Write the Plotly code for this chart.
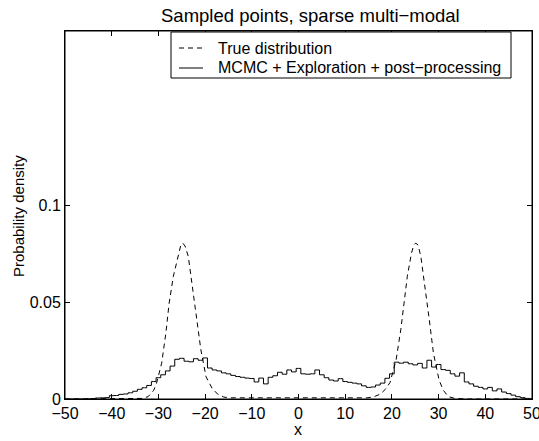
import plotly.graph_objects as go

# ---- data ----
true_x = [-50, -36, -33.5, -32.2, -31.0, -30.4, -29.3, -28.4, -27.7, -26.8, -25.7, -25.2, -24.8,
          -24.3, -23.6, -22.7, -21.7, -20.9, -19.8, -18.5, -17.3, -16.0, -14.7, 0,
          14.7, 16.0, 17.5, 18.6, 19.6, 20.9, 21.9, 22.6, 23.3, 24.2, 24.7, 25.1,
          25.6, 26.2, 27.1, 28.0, 28.9, 30.1, 31.0, 32.1, 33.5, 36, 50]
true_y = [0.0, 0.0, 0.0003, 0.0012, 0.0045, 0.0081, 0.0185, 0.034, 0.0495, 0.0633, 0.0754, 0.0795, 0.0805,
          0.0790, 0.0736, 0.058, 0.041, 0.0253, 0.0115, 0.0055, 0.0025, 0.0010, 0.0006, 0.0005,
          0.0006, 0.0010, 0.0025, 0.0050, 0.0085, 0.0202, 0.0357, 0.0495, 0.0633, 0.0754, 0.0795, 0.0805,
          0.0795, 0.0736, 0.058, 0.041, 0.0236, 0.0098, 0.0045, 0.0012, 0.0003, 0.0, 0.0]

hist_centers = list(range(-50, 51))
hist_values = [
    0.0, 0.0, 0.0, 0.0, 0.0, 0.0001,                                  # -50 .. -45
    0.0002, 0.0005, 0.0006, 0.0007, 0.0017, 0.0018, 0.0024, 0.0026,   # -44 .. -37
    0.0032, 0.0040, 0.0050, 0.0058, 0.0070, 0.0090, 0.0110, 0.0125,   # -36 .. -29
    0.0145, 0.0170, 0.0205, 0.0210, 0.0195, 0.0192, 0.0208, 0.0200,   # -28 .. -21
    0.0212, 0.0160, 0.0150, 0.0145, 0.0135, 0.0130, 0.0122, 0.0116,   # -20 .. -13
    0.0112, 0.0108, 0.0106, 0.0088, 0.0108, 0.0078, 0.0112, 0.0120,   # -12 .. -5
    0.0138, 0.0128, 0.0150, 0.0140, 0.0158, 0.0130, 0.0128, 0.0130,   # -4 .. 3
    0.0150, 0.0125, 0.0110, 0.0098, 0.0093, 0.0105, 0.0090, 0.0086,   # 4 .. 11
    0.0082, 0.0078, 0.0068, 0.0060, 0.0062, 0.0072, 0.0082, 0.0107,   # 12 .. 19
    0.0130, 0.0190, 0.0185, 0.0190, 0.0182, 0.0176, 0.0184, 0.0160,   # 20 .. 27
    0.0200, 0.0165, 0.0178, 0.0152, 0.0148, 0.0130, 0.0118, 0.0135,   # 28 .. 35
    0.0088, 0.0078, 0.0066, 0.0060, 0.0052, 0.0060, 0.0042, 0.0052,   # 36 .. 43
    0.0036, 0.0028, 0.0020, 0.0012, 0.0007, 0.0003, 0.0,              # 44 .. 50
]
assert len(hist_values) == len(hist_centers)

series_names = ["True distribution", "MCMC + Exploration + post\u2212processing"]

x_ticks = [-50, -40, -30, -20, -10, 0, 10, 20, 30, 40, 50]
x_tick_labels = ["\u221250", "\u221240", "\u221230", "\u221220", "\u221210", "0",
                 "10", "20", "30", "40", "50"]
y_ticks = [0, 0.05, 0.1]
y_tick_labels = ["0", "0.05", "0.1"]

FONT = "Liberation Sans, Arial, Helvetica, sans-serif"
W, H = 539, 441
ML, MR, MT, MB = 65, 7, 31, 42
PW, PH = W - ML - MR, H - MT - MB


def px(xp):
    return (xp - ML) / PW


def py(yp):
    return (H - MB - yp) / PH


DASH = "5px,4px"

fig = go.Figure()
fig.add_trace(go.Scatter(
    x=true_x, y=true_y, mode="lines", name=series_names[0], showlegend=False,
    line=dict(color="black", width=1, dash=DASH), hoverinfo="skip",
))
fig.add_trace(go.Scatter(
    x=hist_centers, y=hist_values, mode="lines", name=series_names[1], showlegend=False,
    line=dict(color="black", width=1, shape="hvh"), hoverinfo="skip",
))

axis_common = dict(
    showline=True, linecolor="black", linewidth=1, mirror="ticks",
    ticks="inside", ticklen=5, tickwidth=1, tickcolor="black",
    showgrid=False, zeroline=False, ticklabeloverflow="allow", automargin=False,
    tickfont=dict(family=FONT, size=16, color="black"),
)

shapes = [
    # axes frame
    dict(type="rect", xref="paper", yref="paper", x0=0, x1=1, y0=0, y1=1,
         line=dict(color="black", width=1), layer="above"),
    # legend box (layout only)
    dict(type="rect", xref="paper", yref="paper",
         x0=px(171), x1=px(511), y0=py(78), y1=py(32),
         line=dict(color="black", width=1), fillcolor="white", layer="above"),
    dict(type="line", xref="paper", yref="paper",
         x0=px(179), x1=px(203), y0=py(48), y1=py(48),
         line=dict(color="black", width=1, dash=DASH), layer="above"),
    dict(type="line", xref="paper", yref="paper",
         x0=px(179), x1=px(203), y0=py(68), y1=py(68),
         line=dict(color="black", width=1), layer="above"),
]

annotations = [
    dict(text=series_names[0], xref="paper", yref="paper", x=px(216), y=py(48),
         xanchor="left", yanchor="middle", showarrow=False,
         font=dict(family=FONT, size=16, color="black")),
    dict(text=series_names[1], xref="paper", yref="paper", x=px(216), y=py(68),
         xanchor="left", yanchor="middle", showarrow=False,
         font=dict(family=FONT, size=16, color="black")),
    dict(text="Sampled points, sparse multi\u2212modal", xref="paper", yref="paper",
         x=px(310), y=py(15), xanchor="center", yanchor="middle", showarrow=False,
         font=dict(family=FONT, size=18.5, color="black")),
    dict(text="x", xref="paper", yref="paper", x=px(298), y=py(429),
         xanchor="center", yanchor="middle", showarrow=False,
         font=dict(family=FONT, size=16, color="black")),
    dict(text="Probability density", xref="paper", yref="paper", x=px(18), y=py(216),
         xanchor="center", yanchor="middle", showarrow=False, textangle=-90,
         font=dict(family=FONT, size=15, color="black")),
]

fig.update_layout(
    width=W, height=H,
    margin=dict(l=ML, r=MR, t=MT, b=MB, autoexpand=False),
    paper_bgcolor="white", plot_bgcolor="white",
    showlegend=False,
    hovermode=False,
    xaxis=dict(range=[-50, 50], tickvals=x_ticks, ticktext=x_tick_labels, **axis_common),
    yaxis=dict(range=[0, 0.19], tickvals=y_ticks, ticktext=y_tick_labels, **axis_common),
    shapes=shapes,
    annotations=annotations,
)

fig.write_html("out.html", config={"displayModeBar": False},
               post_script="document.body.style.margin='0px';")
